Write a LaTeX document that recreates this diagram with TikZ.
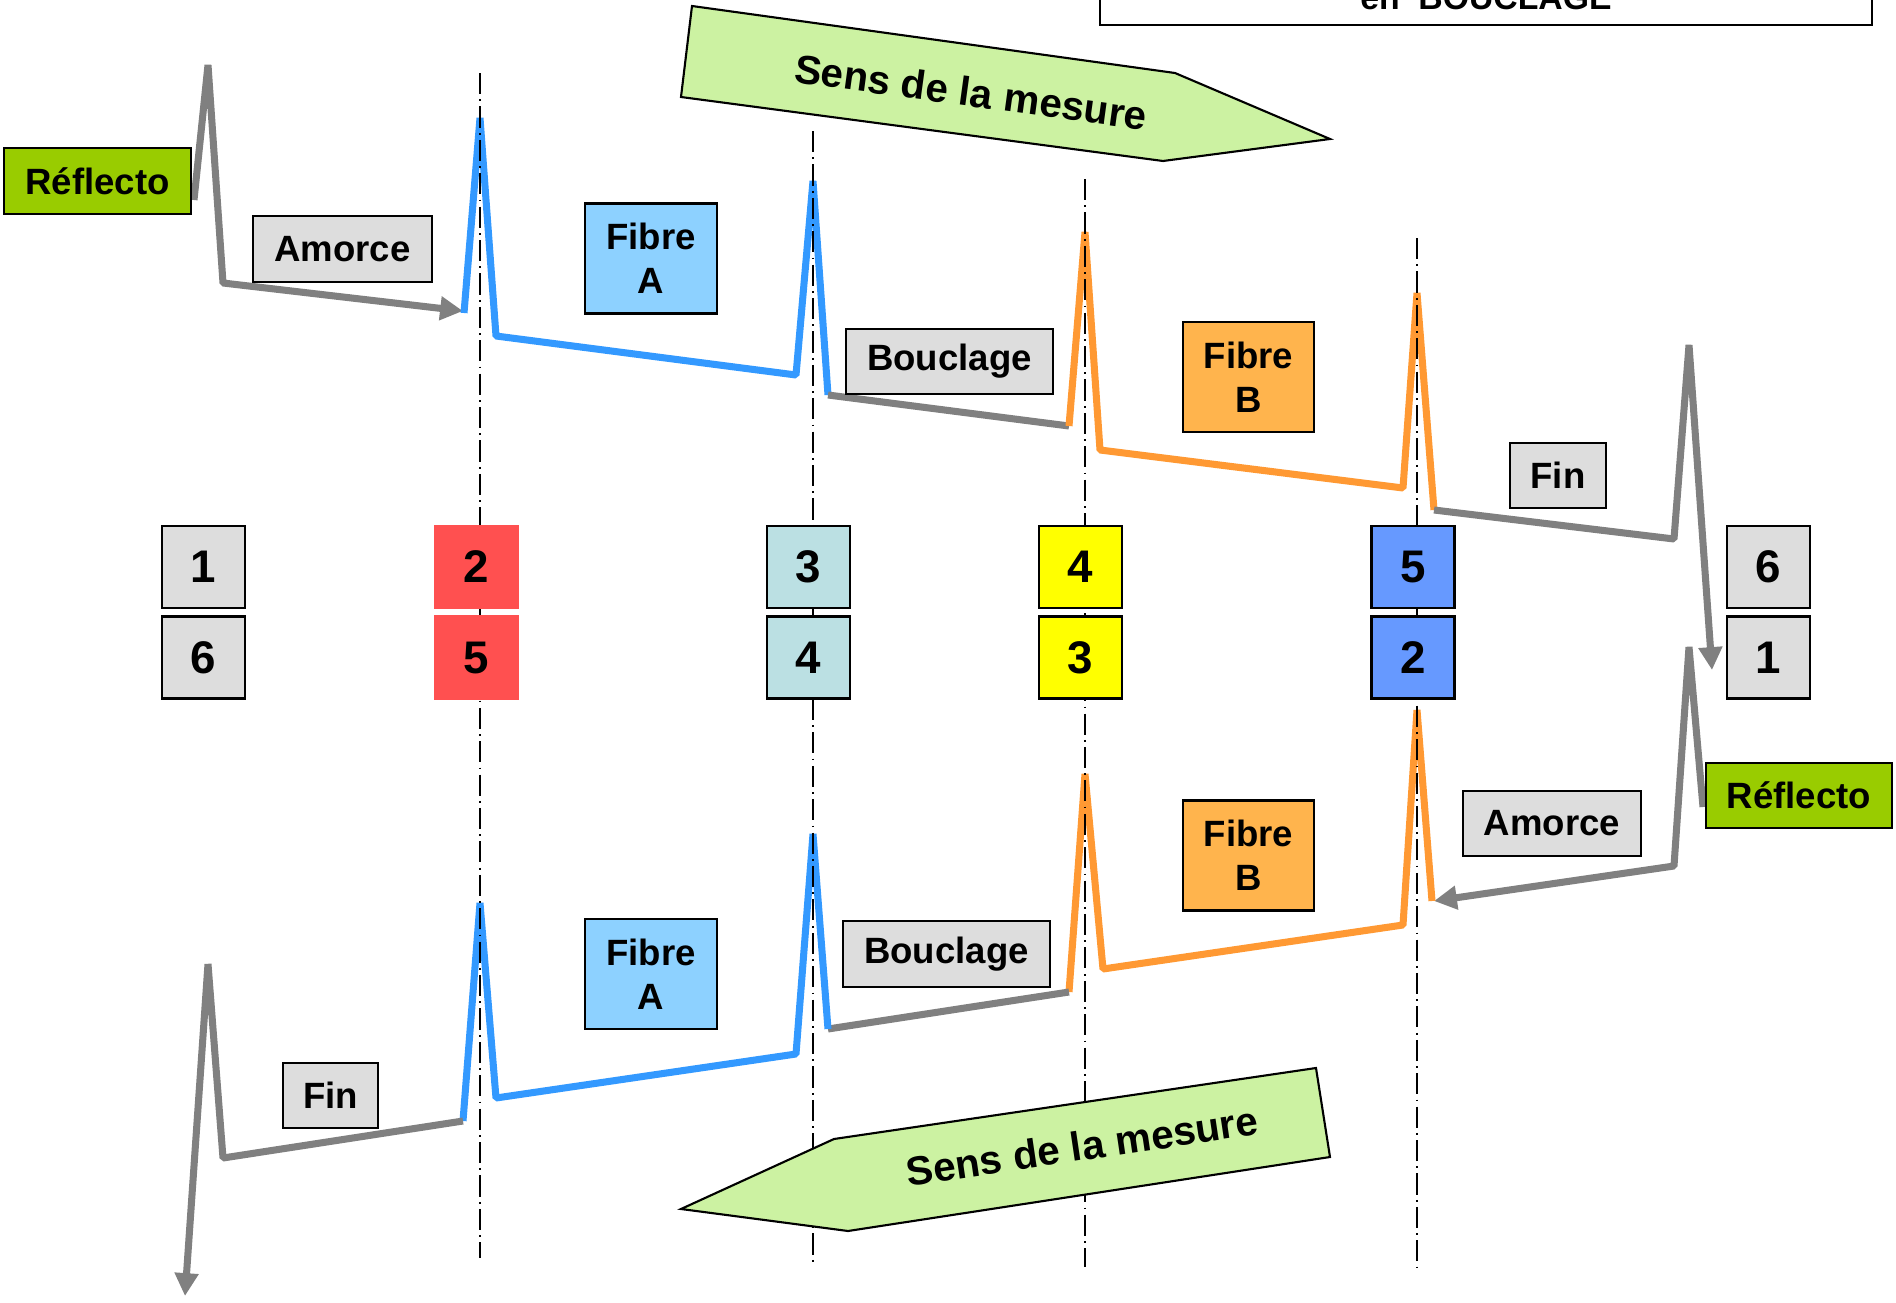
\documentclass[tikz,border=0pt]{standalone}
\usepackage{fontspec}
\setmainfont{Liberation Sans}
\usepackage{tikz}
\usetikzlibrary{arrows.meta,positioning}
\definecolor{boxgrey}{HTML}{DDDDDD}
\definecolor{reflecto green}{HTML}{99CC00}
\definecolor{sens green}{HTML}{CCF2A2}
\definecolor{fibre blue}{HTML}{8DD1FF}
\definecolor{fibre orange}{HTML}{FFB44D}
\definecolor{num red}{HTML}{FF5050}
\definecolor{num teal}{HTML}{BBE0E3}
\definecolor{num yellow}{HTML}{FFFF00}
\definecolor{num blue}{HTML}{6699FF}
\definecolor{trace blue}{HTML}{3399FF}
\definecolor{trace orange}{HTML}{FF9933}
\definecolor{trace grey}{HTML}{808080}
\tikzset{
    label box/.style={draw=black,line width=0.7pt,inner sep=0pt,align=center},
    grey box/.style={label box,fill=boxgrey},
    reflecto box/.style={label box,fill=reflecto green},
    fibreA box/.style={label box,fill=fibre blue,minimum width=1.32cm,minimum height=1.1cm},
    fibreB box/.style={label box,fill=fibre orange,minimum width=1.31cm,minimum height=1.1cm},
    num box/.style={label box,fill=#1,minimum width=0.83cm,minimum height=0.82cm,
        font=\bfseries\fontsize{13}{15}\selectfont},
    trace/.style={line width=2pt,line join=bevel},
    grey trace/.style={trace,color=trace grey},
    blue trace/.style={trace,color=trace blue},
    orange trace/.style={trace,color=trace orange},
    tip/.style={-{Triangle[length=6.5pt,width=6.5pt]}},
    repere/.style={line width=0.6pt,dash pattern=on 6pt off 1.5pt on 0.5pt off 1.5pt},
    sens/.style={draw=black,line width=0.6pt,fill=sens green},
    sens text/.style={font=\bfseries\fontsize{11.5}{13}\selectfont},
}
\tikzstyle{every node}=[font=\bfseries\fontsize{10.4}{12.5}\selectfont]

\begin{document}
\begin{tikzpicture}[x=0.01cm,y=-0.01cm]
        \useasboundingbox (0,0) rectangle (1896,1303);
        \draw[line width=0.7pt] (1100,-60) rectangle (1872,25);
        \node[anchor=base,font=\bfseries\fontsize{9.6}{11}\selectfont] (titre) at (1486,9) {en~~BOUCLAGE};

        \draw[grey trace,tip] (194,200) -- (208,65) -- (223,283) -- (463,311);
        \draw[blue trace] (464,313) -- (480,118) -- (496,336) -- (796,375) -- (813,181) -- (828,395);
        \draw[grey trace] (828,395) -- (1069,426);
        \draw[orange trace] (1069,426) -- (1085,232) -- (1100,450) -- (1403,488) -- (1417,293) -- (1434,510);
        \draw[grey trace,tip] (1434,510) -- (1674,539) -- (1689,345) -- (1712,670);

        \draw[grey trace,tip] (1703,807) -- (1689,647) -- (1674,866) -- (1434,901);
        \draw[orange trace] (1432,901) -- (1417,710) -- (1403,925) -- (1103,969) -- (1085,774) -- (1069,992);
        \draw[grey trace] (1069,992) -- (828,1029);
        \draw[blue trace] (828,1029) -- (813,834) -- (796,1054) -- (496,1098) -- (480,903) -- (463,1121);
        \draw[grey trace,tip] (463,1121) -- (223,1158) -- (208,964) -- (185,1296);

        \draw[repere] (480,73) -- (480,1258);
        \draw[repere] (813,131) -- (813,1265);
        \draw[repere] (1085,179) -- (1085,1267);
        \draw[repere] (1417,238) -- (1417,1273);

        \node[reflecto box,minimum width=1.87cm,minimum height=0.66cm] (refl1) at (97.5,181) {Réflecto};
        \node[grey box,minimum width=1.79cm,minimum height=0.66cm] (amorce1) at (342.5,249) {Amorce};
        \node[fibreA box] (fibreA1) at (651,258.5) {Fibre\\A};
        \node[grey box,minimum width=2.07cm,minimum height=0.65cm] (bouclage1) at (949.5,361.5) {Bouclage};
        \node[fibreB box] (fibreB1) at (1248.5,377) {Fibre\\B};
        \node[grey box,minimum width=0.96cm,minimum height=0.65cm] (fin1) at (1558,475.5) {Fin};

        \node[num box=boxgrey] (n1h) at (203.5,567) {1};
        \node[num box=boxgrey,below=0.06cm of n1h] (n1b) {6};
        \node[num box=num red,draw=num red] (n2h) at (476.5,567) {2};
        \node[num box=num red,draw=num red,below=0.06cm of n2h] (n2b) {5};
        \node[num box=num teal] (n3h) at (808.5,567) {3};
        \node[num box=num teal,below=0.06cm of n3h] (n3b) {4};
        \node[num box=num yellow] (n4h) at (1080.5,567) {4};
        \node[num box=num yellow,below=0.06cm of n4h] (n4b) {3};
        \node[num box=num blue] (n5h) at (1413,567) {5};
        \node[num box=num blue,below=0.06cm of n5h] (n5b) {2};
        \node[num box=boxgrey] (n6h) at (1768.5,567) {6};
        \node[num box=boxgrey,below=0.06cm of n6h] (n6b) {1};

        \node[reflecto box,minimum width=1.86cm,minimum height=0.65cm] (refl2) at (1799,795.5) {Réflecto};
        \node[grey box,minimum width=1.78cm,minimum height=0.65cm] (amorce2) at (1552,823.5) {Amorce};
        \node[fibreB box] (fibreB2) at (1248.5,855.5) {Fibre\\B};
        \node[grey box,minimum width=2.07cm,minimum height=0.66cm] (bouclage2) at (946.5,954) {Bouclage};
        \node[fibreA box] (fibreA2) at (651,974) {Fibre\\A};
        \node[grey box,minimum width=0.95cm,minimum height=0.65cm] (fin2) at (330.5,1095.5) {Fin};

        \filldraw[sens] (692,6) -- (1175,73) -- (1330,139) -- (1163,161) -- (681,97) -- cycle;
        \node[sens text,rotate=-7.8] (sens1) at (971,92) {Sens de la mesure};
        \filldraw[sens] (681,1209) -- (834,1139) -- (1316,1068) -- (1330,1157) -- (848,1231) -- cycle;
        \node[sens text,rotate=8.4] (sens2) at (1082,1146) {Sens de la mesure};
    \end{tikzpicture}
\end{document}
